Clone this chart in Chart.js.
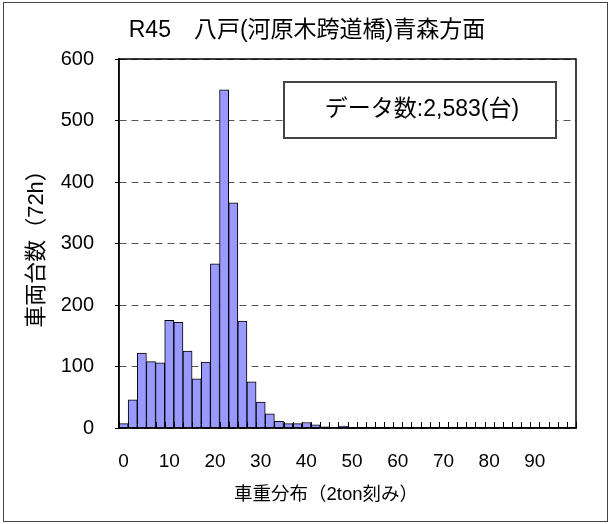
<!DOCTYPE html>
<html>
<head>
<meta charset="utf-8">
<script src="https://cdn.jsdelivr.net/npm/chart.js@4.4.0/dist/chart.umd.min.js"></script>
<style>
  body { margin: 0; background: #fff; }
  #frame { position: absolute; left: 3px; top: 2px; width: 603px; height: 518px; border: 1px solid #444; pointer-events: none; }
  canvas { position: absolute; left: 0; top: 0; }
</style>
</head>
<body>
<canvas id="chart" width="612" height="524"></canvas>
<div id="frame"></div>
<script>
// 2ton bins, 0..98
var weights = [0, 2, 4, 6, 8, 10, 12, 14, 16, 18, 20, 22, 24, 26, 28, 30, 32, 34, 36, 38,
               40, 42, 44, 46, 48, 50, 52, 54, 56, 58, 60, 62, 64, 66, 68, 70, 72, 74, 76, 78,
               80, 82, 84, 86, 88, 90, 92, 94, 96, 98];
var counts = [7, 46, 122, 108, 106, 175, 172, 125, 80, 107, 267, 550, 366, 174, 75, 42, 23, 11, 7, 7,
              9, 5, 2, 1, 3, 0, 0, 0, 0, 0, 0, 0, 0, 0, 0, 0, 0, 0, 0, 0,
              0, 0, 0, 0, 0, 0, 0, 0, 0, 0];
var yTicks = [0, 100, 200, 300, 400, 500, 600];

var titleText = "R45\u3000八戸(河原木跨道橋)青森方面";
var noteText = "データ数:2,583(台)";
var xTitle = "車重分布（2ton刻み）";
var latin = '"Liberation Sans", "Noto Sans CJK JP", sans-serif';

var framePlugin = {
    id: "frame",
    afterDatasetsDraw: function (chart) {
        var ctx = chart.ctx, a = chart.chartArea, x = chart.scales.x;
        var step = x.getPixelForValue(1) - x.getPixelForValue(0);
        ctx.save();
        // inward tick marks at bin borders
        ctx.strokeStyle = "#000";
        ctx.lineWidth = 1;
        for (var i = 0; i <= weights.length; i++) {
            var px = Math.round(x.getPixelForValue(i) - step / 2) + 0.5;
            ctx.beginPath();
            ctx.moveTo(px, a.bottom);
            ctx.lineTo(px, a.bottom - 6);
            ctx.stroke();
        }
        // plot border
        ctx.lineWidth = 1.5;
        ctx.strokeRect(a.left, a.top, a.right - a.left, a.bottom - a.top);
        // data count box
        ctx.fillStyle = "#fff";
        ctx.fillRect(284, 82, 272, 56);
        ctx.strokeStyle = "#444";
        ctx.lineWidth = 2;
        ctx.strokeRect(284, 82, 272, 56);
        ctx.fillStyle = "#000";
        ctx.font = "23px " + latin;
        ctx.textAlign = "center";
        ctx.textBaseline = "middle";
        ctx.fillText(noteText, 422, 110);
        // chart title and x axis title (both off the plot centre in the original)
        ctx.fillText(titleText, 307, 31);
        ctx.font = "18.5px " + latin;
        ctx.fillText(xTitle, 326, 495);
        ctx.restore();
    }
};

new Chart(document.getElementById("chart"), {
    type: "bar",
    data: {
        labels: weights,
        datasets: [{
            label: "車両台数",
            data: counts,
            backgroundColor: "#9999ff",
            borderColor: "#000",
            borderWidth: 1,
            categoryPercentage: 1.0,
            barPercentage: 1.0
        }]
    },
    options: {
        responsive: false,
        animation: false,
        devicePixelRatio: 1,
        layout: { padding: { left: 0, right: 36, top: 59, bottom: 0 } },
        plugins: {
            legend: { display: false },
            tooltip: { enabled: false },
            title: { display: false }
        },
        scales: {
            x: {
                grid: { display: false, drawTicks: false },
                border: { display: true, color: "#000", width: 1.5 },
                ticks: {
                    color: "#000",
                    font: { family: latin, size: 19 },
                    padding: 22,
                    autoSkip: false,
                    maxRotation: 0,
                    callback: function (v, i) {
                        return weights[i] % 10 === 0 ? String(weights[i]) : "";
                    }
                },
                afterFit: function (s) { s.height = 96; }
            },
            y: {
                min: 0,
                max: 600,
                afterBuildTicks: function (s) {
                    s.ticks = yTicks.map(function (v) { return { value: v }; });
                },
                grid: {
                    color: "#555",
                    lineWidth: 1,
                    tickLength: 4,
                    tickColor: "#000",
                    tickBorderDash: []
                },
                border: { display: true, color: "#000", width: 1.5, dash: [7, 5] },
                ticks: {
                    color: "#000",
                    font: { family: latin, size: 20 },
                    padding: 21
                },
                title: {
                    display: true,
                    text: "車両台数（72h）",
                    color: "#000",
                    font: { family: latin, size: 22 },
                    padding: { top: 24, bottom: 0 }
                },
                afterFit: function (s) { s.width = 119; }
            }
        }
    },
    plugins: [framePlugin]
});
</script>
</body>
</html>
